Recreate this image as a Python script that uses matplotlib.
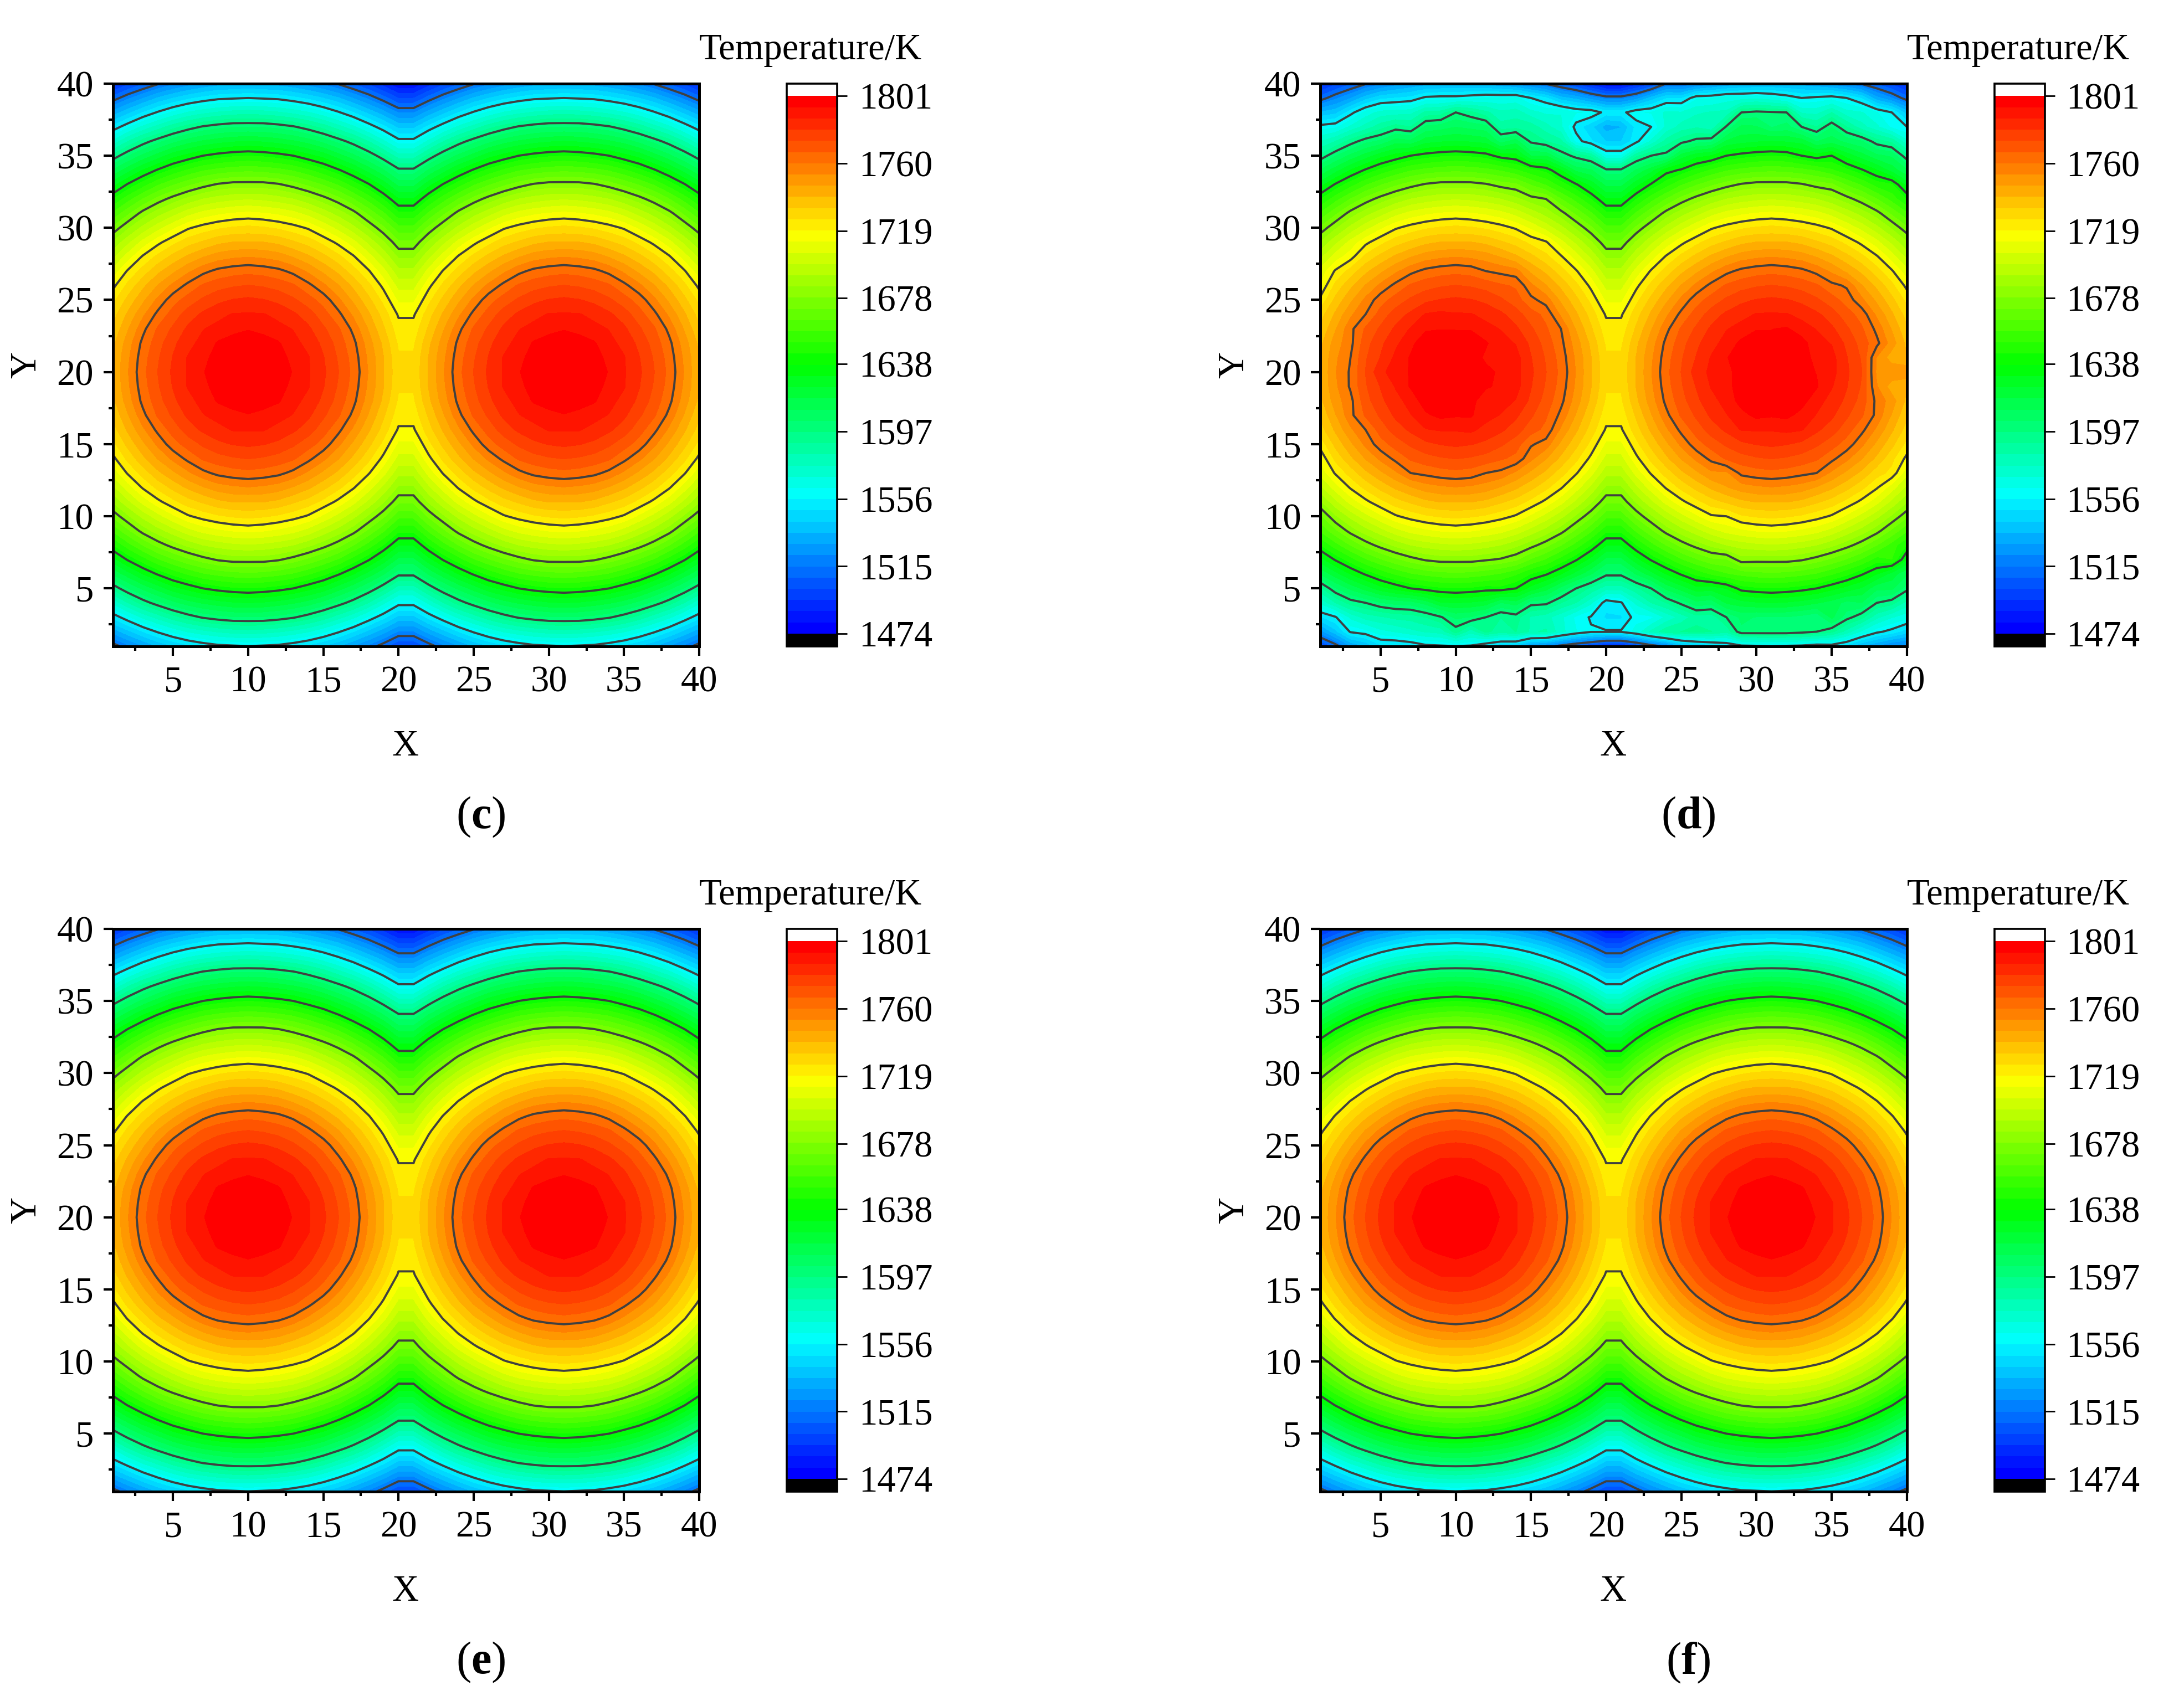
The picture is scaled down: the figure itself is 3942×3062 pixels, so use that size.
import numpy as np
import matplotlib
matplotlib.use('Agg')
import matplotlib.pyplot as plt
from matplotlib.colors import LinearSegmentedColormap, ListedColormap
from matplotlib.ticker import MultipleLocator

plt.rcParams['font.family'] = ['Liberation Serif', 'DejaVu Serif']
plt.rcParams['mathtext.fontset'] = 'custom'
plt.rcParams['mathtext.rm'] = 'Liberation Serif'
plt.rcParams['mathtext.bf'] = 'Liberation Serif:bold'

# Temperature: rows are cells away from y=20, columns are
# cells away from the nearer hot spot (x=10 or x=31)
temperature_rows = [
    [1801, 1799, 1796, 1794, 1788, 1782, 1774, 1765, 1753, 1740, 1728],
    [1799, 1798, 1796, 1793, 1788, 1781, 1773, 1764, 1752, 1740, 1727],
    [1796, 1796, 1795, 1790, 1785, 1779, 1771, 1762, 1750, 1738, 1725],
    [1794, 1793, 1790, 1787, 1782, 1775, 1768, 1758, 1746, 1734, 1722],
    [1788, 1788, 1785, 1782, 1777, 1770, 1762, 1752, 1741, 1730, 1718],
    [1782, 1781, 1779, 1775, 1770, 1764, 1755, 1745, 1735, 1724, 1711],
    [1774, 1773, 1771, 1768, 1762, 1755, 1747, 1738, 1728, 1717, 1703],
    [1765, 1764, 1762, 1758, 1752, 1745, 1738, 1729, 1720, 1708, 1694],
    [1753, 1752, 1750, 1746, 1741, 1735, 1728, 1720, 1709, 1697, 1684],
    [1740, 1740, 1738, 1734, 1730, 1724, 1717, 1708, 1697, 1686, 1673],
    [1728, 1727, 1725, 1722, 1718, 1711, 1703, 1694, 1684, 1673, 1660],
    [1714, 1713, 1711, 1708, 1703, 1696, 1689, 1681, 1670, 1659, 1646],
    [1698, 1697, 1695, 1692, 1687, 1681, 1674, 1665, 1655, 1644, 1631],
    [1681, 1681, 1679, 1675, 1670, 1664, 1657, 1648, 1639, 1628, 1615],
    [1663, 1662, 1660, 1657, 1652, 1646, 1639, 1631, 1621, 1611, 1599],
    [1644, 1643, 1641, 1638, 1633, 1628, 1620, 1612, 1603, 1592, 1579],
    [1624, 1623, 1621, 1618, 1614, 1608, 1601, 1593, 1583, 1571, 1559],
    [1603, 1603, 1601, 1598, 1593, 1587, 1579, 1571, 1561, 1551, 1540],
    [1580, 1579, 1577, 1574, 1570, 1564, 1557, 1549, 1540, 1531, 1521],
    [1556, 1555, 1554, 1551, 1547, 1542, 1536, 1528, 1520, 1511, 1501],
    [1534, 1533, 1532, 1529, 1525, 1520, 1514, 1507, 1500, 1491, 1481],
]

# Panel (d) differs from the others by these offsets: row y -> (x, kelvin)
panel_d_offsets = {
    40: [(24, 8)],
    39: [(4, 3), (5, 5), (6, 2), (8, 4), (9, 4), (10, 3), (11, 6), (12, 9), (13, 12), (14, 17),
         (15, 14), (16, 14), (17, 10), (18, 13), (19, 14), (20, 18), (21, 18), (22, 14), (23, 18),
         (24, 20), (25, 12), (26, 19), (27, 15), (28, 15), (29, 12), (30, 13), (31, 9), (32, 6),
         (33, 2), (34, 7), (35, 13), (36, 14), (37, 12), (38, 3), (39, 2)],
    38: [(1, 5), (3, 4), (4, 8), (5, 8), (6, 3), (8, 8), (9, 7), (10, 17), (11, 13), (12, 8),
         (13, 4), (14, 10), (15, 8), (16, 11), (17, 20), (18, 23), (19, 31), (20, 32), (21, 32),
         (22, 31), (23, 23), (24, 22), (25, 13), (26, 11), (27, 7), (28, 4), (29, 20), (30, 20),
         (31, 18), (32, 18), (33, -2), (35, 13), (36, 8), (37, 13), (38, 14), (39, 16), (40, 8)],
    37: [(1, 8), (7, -8), (8, 4), (9, 4), (10, 7), (11, 5), (12, 5), (13, -12), (14, -6), (18, -8),
         (19, -7), (20, -8), (21, -5), (23, -5), (26, -5), (27, -15), (29, 11), (30, 8), (32, 3),
         (33, -4), (34, -8), (35, 10), (36, 3), (40, 5)],
    36: [(1, 5), (5, -3), (7, -6), (13, -11), (15, -13), (16, -11), (17, -8), (18, -23), (19, -21),
         (20, -17), (21, -17), (22, -18), (23, -12), (24, -7), (25, -7), (26, -8), (27, -12),
         (34, -8), (37, 3), (39, 5)],
    35: [(13, -3), (15, -11), (16, -3), (17, -10), (18, -9), (19, -4), (20, -16), (21, -16), (22, -4),
         (23, -6), (24, -12), (27, -2), (33, -3), (34, -4), (35, 5), (39, 6)],
    34: [(16, 3), (18, -6), (24, 4)],
    33: [(14, 3), (35, 3), (39, 6)],
    32: [(16, 4)],
    29: [(16, 3)],
    28: [(3, -4)],
    27: [(12, -2), (14, 4)],
    26: [(1, -4), (14, 4), (36, 4)],
    25: [(1, -3), (15, -2), (16, 2)],
    24: [(4, -2), (8, 3), (9, 1), (16, 3), (37, 2)],
    23: [(7, 1), (8, 3), (9, 1), (11, 1), (17, 2), (30, 1), (32, 2), (33, 1)],
    22: [(3, -4), (6, 1), (7, 2), (8, 5), (9, 1), (14, 2), (29, 1), (33, 2), (35, 2)],
    21: [(3, -4), (6, 1), (7, 2), (12, -3), (14, 2), (28, 1), (35, 2), (38, -11), (39, -9)],
    20: [(3, -4), (5, 4), (6, 2), (7, 1), (13, -1), (14, 2), (26, 2), (27, 1), (28, -1), (35, 2),
         (38, -13), (39, -1), (40, 12)],
    19: [(3, -3), (7, 2), (12, -1), (14, 2), (34, 2), (38, -10), (39, -9)],
    18: [(3, -4), (8, 3), (12, -4), (14, 2), (29, 2), (33, 2), (38, -4)],
    17: [(8, 3), (9, 3), (10, 1), (11, 2), (29, 2), (30, 3), (31, 1), (32, 3), (33, 2)],
    16: [(4, -2), (8, 2), (11, 1), (16, 3), (29, 3), (32, 1), (33, 3)],
    15: [(1, -2), (15, -3), (16, 2)],
    14: [(1, -3), (14, 3)],
    13: [(7, 2), (12, -2), (28, -6), (34, 2), (39, 4)],
    11: [(1, -2)],
    10: [(1, -3), (28, -3)],
    7: [(13, 2), (14, 3), (28, -4), (29, 3), (39, 12), (40, 3)],
    6: [(15, -2)],
    5: [(1, -4), (13, 4), (14, 5), (17, -4), (18, -6), (19, -4), (22, -4), (23, -6), (27, -6), (28, -7),
        (37, 3), (39, 9), (40, 8)],
    4: [(4, -4), (5, -5), (6, -8), (7, -11), (8, -8), (13, -8), (15, -8), (16, -2), (17, -3), (20, -8),
        (21, -4), (24, -3), (25, -2), (27, -8), (37, 9), (38, 4), (39, 10), (40, 9)],
    3: [(1, -3), (2, -6), (5, -5), (6, -8), (7, -12), (8, -11), (9, -7), (10, 2), (12, -4), (13, -8),
        (15, -5), (19, 4), (20, 8), (21, 8), (22, 9), (27, -7), (28, -1), (29, 4), (35, 19), (36, 13),
        (37, 13), (38, 7), (39, 9), (40, 14)],
    2: [(1, -6), (3, 8), (4, 3), (5, 3), (10, 13), (12, 15), (13, 12), (14, 20), (15, 18), (16, 27),
        (17, 23), (18, 23), (19, 26), (20, 36), (21, 36), (22, 34), (23, 38), (24, 39), (25, 33),
        (26, 28), (27, 20), (28, 11), (29, 25), (30, 23), (31, 22), (32, 23), (33, 23), (34, 23),
        (35, 22), (36, 16), (37, 11), (38, 9), (39, 13), (40, 14)],
    1: [(1, -11), (2, -9), (5, 5), (7, -2), (12, -6), (13, -9), (14, -7), (15, -17), (16, -16), (17, -16),
        (18, -15), (19, -12), (20, -11), (21, -11), (22, -12), (23, -10), (24, -10), (25, -1), (26, -2),
        (27, -3), (28, -3), (35, 5), (36, 4), (37, -1), (40, 7)],
}

hot_spots_x = [10, 31]
hot_spot_y = 20
panel_names = ['c', 'd', 'e', 'f']
colorbar_ticks = [1474, 1515, 1556, 1597, 1638, 1678, 1719, 1760, 1801]
band_count = 48
line_levels = [1515, 1556, 1597, 1638, 1678, 1719, 1760]
axis_ticks = [5, 10, 15, 20, 25, 30, 35, 40]

# Layout in pixels of the 1568 wide view of the picture
W, H = 3942, 3062
S = W / 1568
lefts = [81, 948, 81, 948]
tops = [60, 60, 667, 667]


def box(l, t, r, b):
    return [l * S / W, 1 - b * S / H, (r - l) * S / W, (b - t) * S / H]


def put_text(x, y, s, **kw):
    fig.text(x * S / W, 1 - y * S / H, s, ha='center', va='center', **kw)


# Build the temperature fields
x = np.arange(1, 41)
y = np.arange(1, 41)
X, Y = np.meshgrid(x, y)
table = np.array(temperature_rows)
cols = np.minimum(abs(X - hot_spots_x[0]), abs(X - hot_spots_x[1]))
rows = abs(Y - hot_spot_y)
field = table[rows, cols].astype(float)
field_d = field.copy()
for row_y, pairs in panel_d_offsets.items():
    for col_x, kelvin in pairs:
        field_d[row_y - 1, col_x - 1] += kelvin
fields = [field, field_d, field, field]

# Stepped rainbow colour scale, white above and black below
ramp = LinearSegmentedColormap.from_list('ramp', ['#0000ff', '#00ffff', '#00ff00', '#ffff00', '#ff0000'])
cmap = ListedColormap(ramp(np.linspace(0, 1, band_count)))
cmap.set_over('white')
cmap.set_under('black')
levels = np.linspace(colorbar_ticks[0], colorbar_ticks[-1], band_count + 1)

fig = plt.figure(figsize=(W / 100, H / 100), dpi=100)

for name, data, l, t in zip(panel_names, fields, lefts, tops):
    ax = fig.add_axes(box(l, t, l + 421, t + 404))
    cf = ax.contourf(x, y, data, levels=levels, cmap=cmap, extend='both', antialiased=False)
    ax.contour(x, y, data, levels=line_levels, colors='#404040', linewidths=2.8, linestyles='solid')
    ax.set_xlim(1, 40)
    ax.set_ylim(1, 40)
    ax.set_xticks(axis_ticks)
    ax.set_yticks(axis_ticks)
    ax.xaxis.set_minor_locator(MultipleLocator(2.5))
    ax.yaxis.set_minor_locator(MultipleLocator(2.5))
    ax.tick_params(which='major', length=12, width=3, labelsize=48, pad=13)
    ax.tick_params(which='minor', length=6, width=3)
    for spine in ax.spines.values():
        spine.set_linewidth(3.6)
        spine.set_zorder(5)

    # colour bar, the end boxes take up part of this axes
    cax = fig.add_axes(box(l + 484, t, l + 520, t + 404))
    cbar = fig.colorbar(cf, cax=cax, ticks=colorbar_ticks, extend='both', extendrect=True,
                        extendfrac=9 / 386, drawedges=False)
    cbar.minorticks_off()
    cbar.ax.set_yticklabels([str(v) for v in colorbar_ticks])
    cbar.ax.tick_params(length=13, width=2, labelsize=48, pad=15)
    cbar.outline.set_linewidth(2.6)

    put_text(l + 210, t + 476, 'X', fontsize=48)
    put_text(l - 62, t + 202, 'Y', fontsize=48, rotation=90)
    put_text(l + 501, t - 24, 'Temperature/K', fontsize=48)
    put_text(l + 264, t + 527, r'($\mathbf{' + name + r'}$)', fontsize=59)

fig.savefig('out.png', dpi=100)
